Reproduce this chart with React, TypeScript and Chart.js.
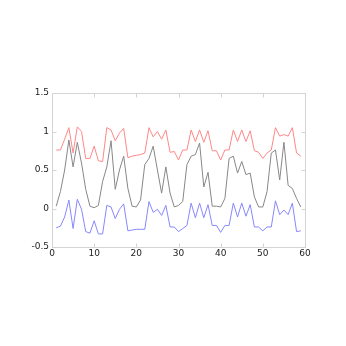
import React, { useEffect, useRef } from "react";
import { Chart, registerables } from "chart.js";

Chart.register(...registerables);

const xs = [
  1, 2, 3, 4, 5, 6, 7, 8, 9, 10, 11, 12, 13, 14, 15, 16, 17, 18, 19, 20,
  21, 22, 23, 24, 25, 26, 27, 28, 29, 30, 31, 32, 33, 34, 35, 36, 37, 38, 39, 40,
  41, 42, 43, 44, 45, 46, 47, 48, 49, 50, 51, 52, 53, 54, 55, 56, 57, 58, 59,
];

const blackSeries = [
  0.03, 0.22, 0.5, 0.89, 0.54, 0.86, 0.59, 0.25, 0.03, 0.01,
  0.04, 0.35, 0.54, 0.88, 0.25, 0.5, 0.68, 0.26, 0.03, 0.02,
  0.11, 0.57, 0.65, 0.81, 0.5, 0.2, 0.54, 0.2, 0.02, 0.04,
  0.09, 0.57, 0.68, 0.7, 0.85, 0.28, 0.47, 0.03, 0.03, 0.02,
  0.13, 0.65, 0.68, 0.46, 0.61, 0.44, 0.46, 0.15, 0.02, 0.02,
  0.22, 0.72, 0.76, 0.37, 0.86, 0.3, 0.26, 0.13, 0.02,
];

const redSeries = [
  0.76, 0.76, 0.9, 1.05, 0.72, 1.06, 1.0, 0.65, 0.65, 0.81,
  0.62, 0.61, 1.05, 1.02, 0.88, 0.98, 1.04, 0.66, 0.68, 0.69,
  0.7, 0.72, 1.05, 0.93, 1.0, 0.9, 1.02, 0.73, 0.74, 0.63,
  0.76, 0.76, 1.02, 0.87, 1.02, 0.86, 1.01, 0.75, 0.75, 0.63,
  0.76, 0.76, 1.02, 0.87, 1.02, 0.87, 1.01, 0.75, 0.73, 0.65,
  0.72, 0.76, 1.05, 0.94, 0.96, 0.94, 1.05, 0.72, 0.68,
];

const blueSeries = [
  -0.25, -0.23, -0.11, 0.11, -0.26, 0.12, -0.01, -0.3, -0.32, -0.16,
  -0.33, -0.33, 0.04, 0.02, -0.13, -0.01, 0.06, -0.29, -0.28, -0.27,
  -0.27, -0.27, 0.09, -0.05, -0.01, -0.09, 0.04, -0.24, -0.24, -0.3,
  -0.26, -0.22, 0.07, -0.12, 0.07, -0.12, 0.05, -0.22, -0.22, -0.31,
  -0.22, -0.22, 0.07, -0.11, 0.07, -0.1, 0.05, -0.24, -0.24, -0.29,
  -0.24, -0.24, 0.1, -0.08, -0.02, -0.08, 0.07, -0.3, -0.29,
];

const xTicks = [0, 10, 20, 30, 40, 50, 60];
const yTicks = [-0.5, 0, 0.5, 1, 1.5];

const toPoints = (vals: number[]) => vals.map((v, i) => ({ x: xs[i], y: v }));

const framePlugin = {
  id: "frame",
  beforeDatasetsDraw(chart: any) {
    const { ctx, chartArea, scales } = chart;
    const l = Math.round(chartArea.left) + 0.5;
    const r = Math.round(chartArea.right) + 0.5;
    const t = Math.round(chartArea.top) + 0.5;
    const b = Math.round(chartArea.bottom) + 0.5;
    ctx.save();
    ctx.strokeStyle = "#d4d4d4";
    ctx.lineWidth = 1;
    ctx.strokeRect(l, t, r - l, b - t);
    ctx.beginPath();
    const tl = 4;
    yTicks.forEach((v) => {
      const py = Math.round(scales.y.getPixelForValue(v)) + 0.5;
      ctx.moveTo(l, py);
      ctx.lineTo(l + tl, py);
      ctx.moveTo(r, py);
      ctx.lineTo(r - tl, py);
    });
    xTicks.forEach((v) => {
      const px = Math.round(scales.x.getPixelForValue(v)) + 0.5;
      ctx.moveTo(px, b);
      ctx.lineTo(px, b - tl);
      ctx.moveTo(px, t);
      ctx.lineTo(px, t + tl);
    });
    ctx.stroke();
    ctx.restore();
  },
};

export default function App() {
  const ref = useRef<HTMLCanvasElement | null>(null);

  useEffect(() => {
    if (!ref.current) return;
    const chart = new Chart(ref.current, {
      type: "line",
      data: {
        datasets: [
          {
            data: toPoints(redSeries),
            borderColor: "rgb(255,135,135)",
            borderWidth: 1,
            pointRadius: 0,
            tension: 0,
          },
          {
            data: toPoints(blackSeries),
            borderColor: "rgb(135,135,135)",
            borderWidth: 1,
            pointRadius: 0,
            tension: 0,
          },
          {
            data: toPoints(blueSeries),
            borderColor: "rgb(135,135,255)",
            borderWidth: 1,
            pointRadius: 0,
            tension: 0,
          },
        ],
      },
      options: {
        animation: false,
        responsive: false,
        events: [],
        layout: { padding: { top: 93, right: 41, left: 0, bottom: 0 } },
        plugins: { legend: { display: false }, tooltip: { enabled: false } },
        scales: {
          x: {
            type: "linear",
            min: 0,
            max: 60,
            grid: { display: false, drawTicks: false },
            border: { display: false },
            ticks: {
              stepSize: 10,
              padding: 1,
              color: "#222",
              font: { family: "DejaVu Sans", size: 9 },
              maxRotation: 0,
              callback: (v: any) => String(v),
            },
            afterFit: (s: any) => {
              s.height = 99;
            },
          },
          y: {
            type: "linear",
            min: -0.5,
            max: 1.5,
            grid: { display: false, drawTicks: false },
            border: { display: false },
            ticks: {
              stepSize: 0.5,
              padding: 3,
              color: "#222",
              font: { family: "DejaVu Sans", size: 9 },
              callback: (v: any) => String(v),
            },
            afterFit: (s: any) => {
              s.width = 52;
            },
          },
        },
      },
      plugins: [framePlugin],
    });
    return () => chart.destroy();
  }, []);

  return (
    <div style={{ position: "absolute", left: 0, top: 0, width: 346, height: 346, background: "#fff" }}>
      <canvas ref={ref} width={346} height={346} style={{ width: 346, height: 346 }} />
    </div>
  );
}
